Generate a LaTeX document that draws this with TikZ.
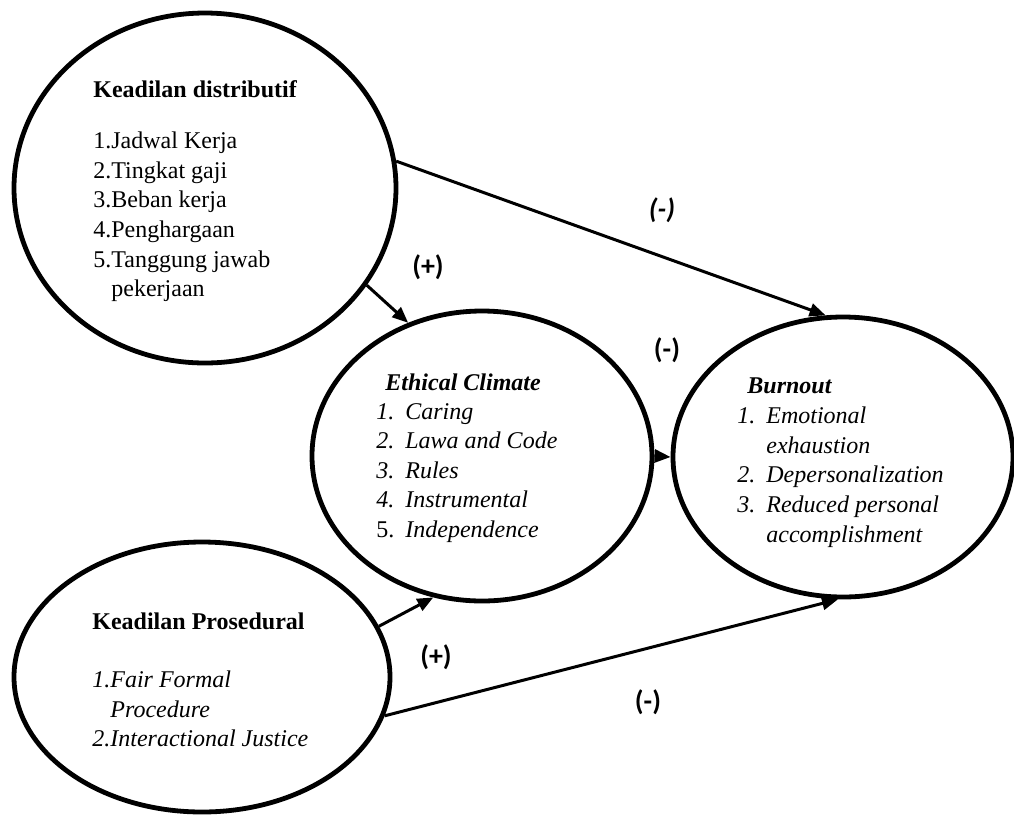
\documentclass[tikz,border=0pt]{standalone}
\usepackage{fontspec}
\setmainfont{Liberation Serif}
\newfontfamily\signfont{Carlito}
\usetikzlibrary{shapes.geometric,arrows.meta}

\newcommand{\itm}[2]{\makebox[14.5pt][l]{#1}#2}

\begin{document}
\begin{tikzpicture}[
                x=0.5pt,y=-0.5pt,
                >={Triangle[length=8pt,width=6.5pt]},
                blob/.style={draw,ellipse,line width=2.4pt,inner sep=0pt},
                headtext/.style={anchor=base west,inner sep=0pt,font=\fontsize{12}{14.8}\selectfont\bfseries},
                itemtext/.style={anchor=north west,inner sep=0pt,align=left,font=\fontsize{12}{14.8}\selectfont},
                signtext/.style={inner sep=0pt,font=\fontsize{14}{16}\selectfont\signfont\bfseries},
                link/.style={->,line width=1.5pt}] %

\useasboundingbox (0,0) rectangle (1014,816);

                    % Keadilan distributif
                    \node[blob,minimum width=191pt,minimum height=175pt] (Distributif) at (205,188) {};
                    \node[headtext] (DistributifTitle) at (93,97) {Keadilan distributif};
                    \node[itemtext] (DistributifList) at (93,131.6) {1.Jadwal Kerja\\2.Tingkat gaji\\3.Beban kerja\\4.Penghargaan\\5.Tanggung jawab\\\phantom{5.}pekerjaan};

                    % Ethical Climate
                    \node[blob,minimum width=170pt,minimum height=145pt] (Ethical) at (482,456) {};
                    \node[headtext,font=\fontsize{12}{14.8}\selectfont\bfseries\itshape] (EthicalTitle) at (385,390) {Ethical Climate};
                    \node[itemtext,font=\fontsize{12}{14.8}\selectfont\itshape] (EthicalList) at (376,402.8) {\itm{1.}{Caring}\\\itm{2.}{Lawa and Code}\\\itm{3.}{Rules}\\\itm{4.}{Instrumental}\\\itm{\upshape 5.}{Independence}};

                    % Burnout
                    \node[blob,minimum width=170pt,minimum height=140pt] (Burnout) at (843,457) {};
                    \node[headtext,font=\fontsize{12}{14.8}\selectfont\bfseries\itshape] (BurnoutTitle) at (747,393) {Burnout};
                    \node[itemtext,font=\fontsize{12}{14.8}\selectfont\itshape] (BurnoutList) at (737,406.6) {\itm{1.}{Emotional}\\\itm{}{exhaustion}\\\itm{2.}{Depersonalization}\\\itm{3.}{Reduced personal}\\\itm{}{accomplishment}};

                    % Keadilan Prosedural
                    \node[blob,minimum width=188pt,minimum height=135pt] (Prosedural) at (202,677) {};
                    \node[headtext] (ProseduralTitle) at (92,629) {Keadilan Prosedural};
                    \node[itemtext,font=\fontsize{12}{14.8}\selectfont\itshape] (ProseduralList) at (92,670.6) {1.Fair Formal\\\phantom{1.}Procedure\\2.Interactional Justice};

 % arrows
                    \draw[link] (Distributif.8) to (Burnout.97);
                    \draw[link] (Distributif.-31) to (Ethical.119);
                    \draw[link] (Ethical.east) to (Burnout.west);
                    \draw[link] (Prosedural.16) to (Ethical.-109);
                    \draw[link] (Prosedural.-12) to (Burnout.-92);

 % signs
                    \node[signtext,font=\fontsize{14}{16}\selectfont\signfont\bfseries\itshape] (SignA) at (662,210) {(-)};
                    \node[signtext] (SignB) at (428,267) {(+)};
                    \node[signtext] (SignC) at (667,350) {(-)};
                    \node[signtext] (SignD) at (436,657) {(+)};
                    \node[signtext] (SignE) at (648,702) {(-)};

                    \end{tikzpicture}
\end{document}
